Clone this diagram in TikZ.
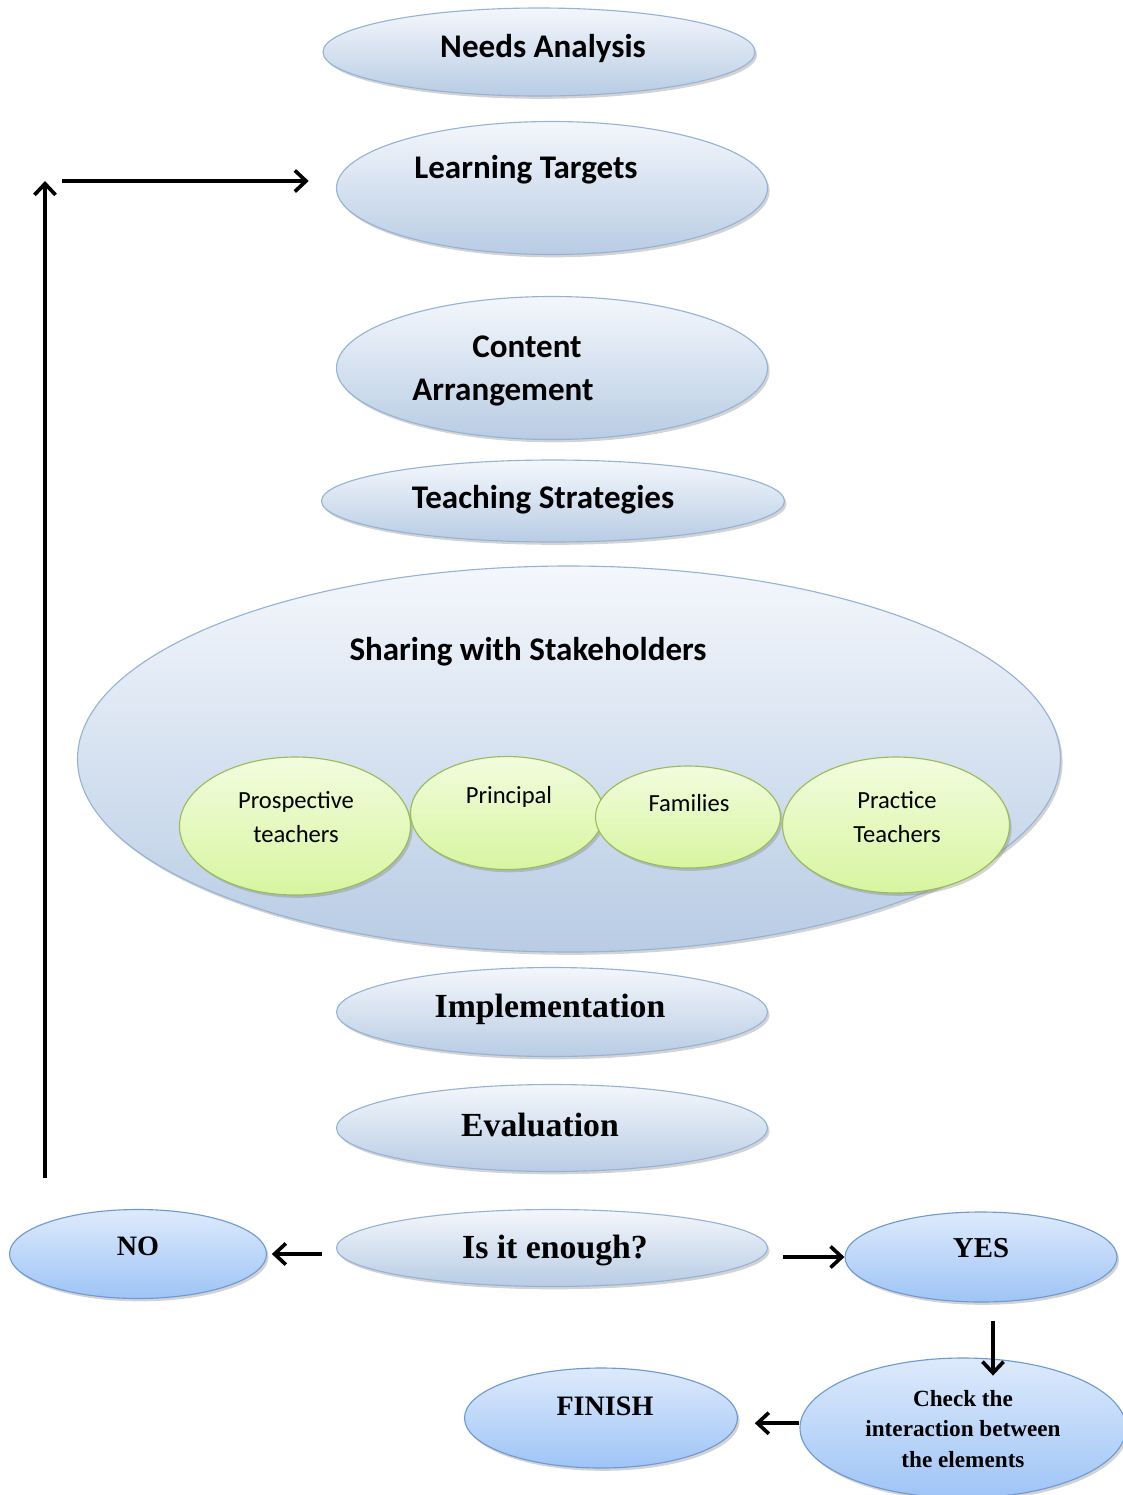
\documentclass[tikz,border=0pt]{standalone}
\usepackage{fontspec}
\setmainfont{Liberation Serif}
\newfontfamily\calib{Carlito}
\usetikzlibrary{shapes.geometric,shadows,arrows.meta}

\definecolor{edgeblue}{RGB}{149,179,215}
\definecolor{botblue}{RGB}{184,204,228}
\definecolor{topblue}{RGB}{244,247,252}
\definecolor{edgegreen}{RGB}{155,187,89}
\definecolor{botgreen}{RGB}{215,245,160}
\definecolor{topgreen}{RGB}{242,252,222}
\definecolor{edgesky}{RGB}{109,154,212}
\definecolor{botsky}{RGB}{158,196,246}
\definecolor{topsky}{RGB}{222,234,252}

\tikzset{
  sz/.style 2 args={minimum width=#1*0.025cm, minimum height=#2*0.025cm},
  blob/.style={ellipse, inner sep=0pt, draw=edgeblue, line width=0.8pt,
    top color=topblue, bottom color=botblue,
    drop shadow={shadow xshift=1.5pt, shadow yshift=-2pt, opacity=0.35}},
  leaf/.style={blob, draw=edgegreen, top color=topgreen, bottom color=botgreen},
  sky/.style={blob, draw=edgesky, top color=topsky, bottom color=botsky},
  ttl/.style={font=\calib\bfseries\fontsize{23.5}{28}\selectfont},
  sub/.style={font=\calib\fontsize{17.5}{24}\selectfont, align=center},
  rom/.style={font=\bfseries\fontsize{24}{28}\selectfont},
  arr/.style={-{Straight Barb[length=8pt,width=15pt,line width=2.6pt]}, line width=2.6pt},
}

\begin{document}
\begin{tikzpicture}[x=0.025cm,y=-0.025cm]
  \useasboundingbox (0,0) rectangle (1123,1495);

  % main column
  \node[blob,sz={432}{88}] (na) at (539,52) {};
  \node[ttl] at (543,48) {Needs Analysis};
  \node[blob,sz={431}{133}] (lt) at (552,188) {};
  \node[ttl] at (526,170) {Learning Targets};
  \node[blob,sz={431}{143}] (ca) at (552,368) {};
  \node[ttl] at (527,347) {Content};
  \node[ttl] at (503,393) {Arrangement};
  \node[blob,sz={463}{82}] (ts) at (553,501) {};
  \node[ttl] at (543,500) {Teaching Strategies};

  % stakeholders
  \node[blob,sz={983}{386}] (sh) at (569,759) {};
  \node[ttl] at (528,652) {Sharing with Stakeholders};
  \node[leaf,sz={231}{138}] (pt) at (295,826) {};
  \node[sub] at (296,817) {Prospective\\teachers};
  \node[leaf,sz={193}{113}] (pr) at (507,813) {};
  \node[sub] at (509,797) {Principal};
  \node[leaf,sz={185}{102}] (fa) at (688,817) {};
  \node[sub] at (689,803) {Families};
  \node[leaf,sz={227}{136}] (pc) at (896,825) {};
  \node[sub] at (897,817) {Practice\\Teachers};

  \node[blob,sz={431}{89}] (im) at (552,1012) {};
  \node[rom] at (550,1009) {Implementation};
  \node[blob,sz={431}{87}] (ev) at (552,1128) {};
  \node[rom] at (540,1125) {Evaluation};
  \node[blob,sz={431}{77}] (enough) at (552,1248) {};
  \node[rom] at (555,1250) {Is it enough?};

  % decision
  \node[sky,sz={257}{89}] (no) at (138,1254) {};
  \node[rom,font=\bfseries\fontsize{20}{24}\selectfont] at (138,1246) {NO};
  \node[sky,sz={272}{90}] (yes) at (981,1257) {};
  \node[rom,font=\bfseries\fontsize{20.5}{24}\selectfont] at (981,1248) {YES};
  \node[sky,sz={273}{100}] (fin) at (601,1418) {};
  \node[rom,font=\bfseries\fontsize{20}{24}\selectfont] at (605,1406) {FINISH};
  \node[sky,sz={326}{140}] (chk) at (963,1428) {};
  \node[font=\bfseries\fontsize{16.5}{22}\selectfont, align=center] at (963,1429)
    {Check the\\interaction between\\the elements};

  % arrows
  \draw[arr,shorten <=0.35cm,shorten >=0.12cm] (enough.west |- no.east) -- (no.east);
  \draw[arr,shorten <=0.38cm] (enough.east |- yes.west) -- (yes.west);
  \draw[arr] ([xshift=0.3cm,yshift=-0.45cm]yes.south) -- ++(0,55);
  \draw[arr,shorten >=0.42cm] ([yshift=0.12cm]chk.west) -- ([yshift=0.12cm]chk.west -| fin.east);

  \coordinate (back) at (45,1178);
  \coordinate (turn) at (62,181);
  \draw[arr] (back) -- (back |- turn);
  \draw[arr,shorten >=0.68cm] (turn) -- (turn -| lt.west);
\end{tikzpicture}
\end{document}
